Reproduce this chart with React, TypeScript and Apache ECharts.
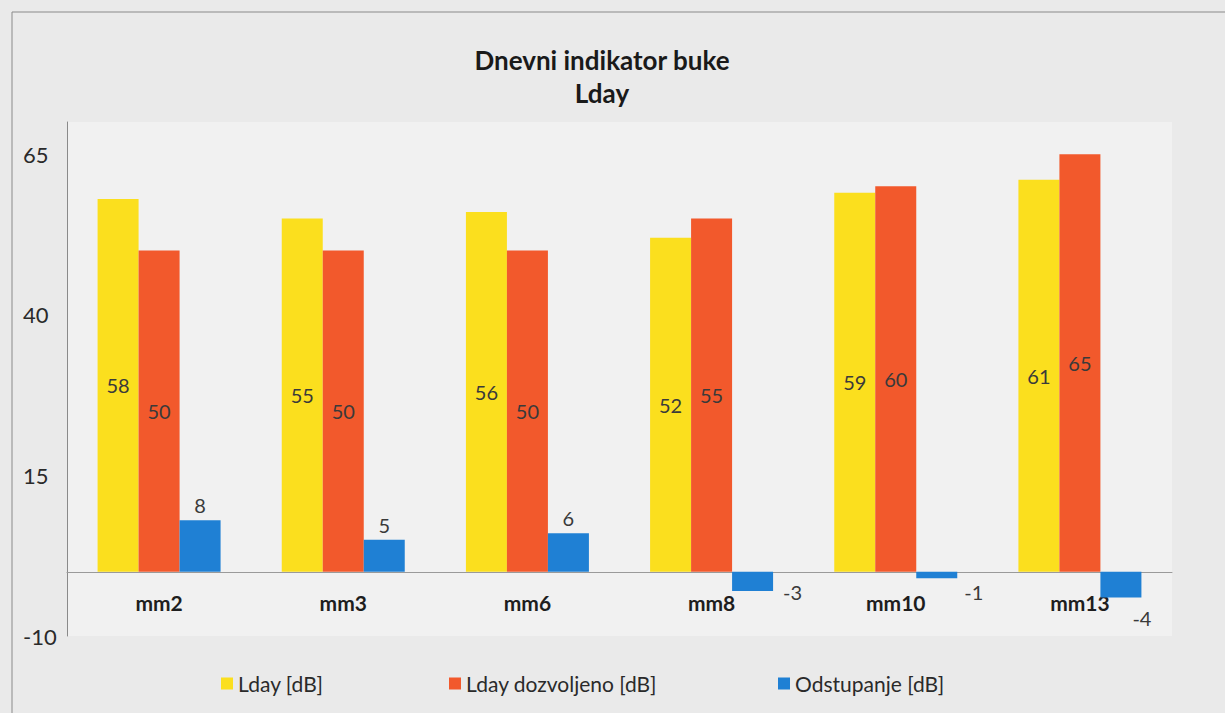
import React, { useEffect, useRef } from "react";
import * as echarts from "echarts";

const categories = ["mm2", "mm3", "mm6", "mm8", "mm10", "mm13"];
const lday = [58, 55, 56, 52, 59, 61];
const ldayAllowed = [50, 50, 50, 55, 60, 65];
const deviation = [8, 5, 6, -3, -1, -4];
const seriesNames = ["Lday [dB]", "Lday dozvoljeno [dB]", "Odstupanje [dB]"];
const titleLines = ["Dnevni indikator buke", "Lday"];
const yTicks = { min: -10, max: 70, interval: 25 };

const FONT = "Lato, 'Open Sans', sans-serif";

export default function App() {
  const ref = useRef<HTMLDivElement>(null);
  useEffect(() => {
    document.body.style.margin = "0";
    const chart = echarts.init(ref.current!, null, { renderer: "svg" });
    const devOffsets: Record<number, number[]> = {
      3: [40, -14],
      4: [37, -1],
      5: [21, 6],
    };
    const devData = deviation.map((v, i) => {
      if (v >= 0) return { value: v };
      return {
        value: v,
        label: { position: "bottom", offset: devOffsets[i] || [30, 0] },
      };
    });
    const labelStyle = {
      show: true,
      color: "#3a3a3a",
      fontSize: 20,
      fontFamily: FONT,
    };
    chart.setOption({
      animation: false,
      backgroundColor: "#eaeaea",
      textStyle: { fontFamily: FONT },
      title: {
        text: titleLines.join("\n"),
        left: 597,
        top: 38,
        textAlign: "center",
        textStyle: {
          fontSize: 26,
          fontWeight: "bold",
          color: "#1a1a1a",
          lineHeight: 33,
          fontFamily: FONT,
        },
      },
      legend: [0, 1, 2].map((i) => ({
        data: [seriesNames[i]],
        left: [216, 444, 773][i],
        top: 668,
        itemWidth: 12,
        itemHeight: 12,
        itemGap: 4,
        icon: "rect",
        textStyle: { fontSize: 21, color: "#2a2a2a", fontFamily: FONT, padding: [0, 0, 0, 0] },
      })),
      grid: {
        left: 67,
        right: 53,
        top: 122,
        bottom: 77,
        show: true,
        backgroundColor: "#f1f1f1",
        borderWidth: 0,
      },
      xAxis: {
        type: "category",
        data: categories,
        axisLine: { show: true, onZero: true, lineStyle: { color: "#9a9a9a", width: 1 } },
        axisTick: { show: false },
        axisLabel: {
          margin: -44,
          fontSize: 21,
          fontWeight: "bold",
          color: "#1e1e1e",
          fontFamily: FONT,
        },
      },
      yAxis: {
        type: "value",
        min: yTicks.min,
        max: yTicks.max,
        interval: yTicks.interval,
        axisLine: { show: true, lineStyle: { color: "#8a8a8a", width: 1 } },
        axisTick: { show: false },
        splitLine: { show: false },
        axisLabel: {
          showMaxLabel: false,
          align: "left",
          margin: 44,
          fontSize: 22,
          color: "#2a2a2a",
          fontFamily: FONT,
        },
      },
      series: [
        {
          name: seriesNames[0],
          type: "bar",
          data: lday,
          barWidth: 41,
          barGap: "0%",
          itemStyle: { color: "#fbdf1e" },
          label: { ...labelStyle, position: "inside" },
        },
        {
          name: seriesNames[1],
          type: "bar",
          data: ldayAllowed,
          barWidth: 41,
          barGap: "0%",
          itemStyle: { color: "#f2592c" },
          label: { ...labelStyle, position: "inside" },
        },
        {
          name: seriesNames[2],
          type: "bar",
          data: devData,
          barWidth: 41,
          barGap: "0%",
          itemStyle: { color: "#1f80d4" },
          label: { ...labelStyle, position: "top", distance: 5 },
        },
      ],
      graphic: [
        {
          type: "rect",
          shape: { x: 12, y: 12, width: 1240, height: 740 },
          style: { fill: "none", stroke: "#8a8a8a", lineWidth: 1 },
          silent: true,
        },
      ],
    });
    return () => chart.dispose();
  }, []);
  return <div ref={ref} style={{ width: 1225, height: 713 }} />;
}
